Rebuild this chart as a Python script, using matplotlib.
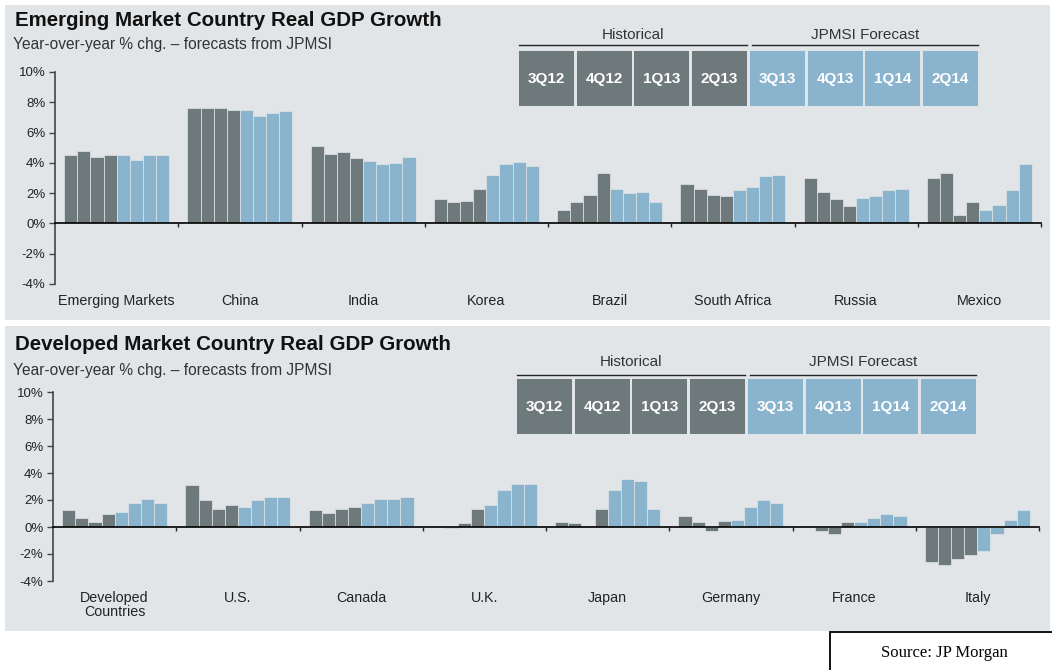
import matplotlib
matplotlib.use('Agg')
import matplotlib.pyplot as plt
from matplotlib.patches import Rectangle
import numpy as np

plt.rcParams['font.family'] = ['Liberation Sans', 'DejaVu Sans']

# ---- data ----
quarters = ['3Q12', '4Q12', '1Q13', '2Q13', '3Q13', '4Q13', '1Q14', '2Q14']
n_hist = 4  # first four quarters are historical, rest are JPMSI forecasts

em_names = ['Emerging Markets', 'China', 'India', 'Korea', 'Brazil',
            'South Africa', 'Russia', 'Mexico']
em_growth = [
    [4.5, 4.8, 4.4, 4.5, 4.5, 4.2, 4.55, 4.55],
    [7.6, 7.6, 7.6, 7.5, 7.5, 7.1, 7.3, 7.4],
    [5.1, 4.6, 4.7, 4.3, 4.1, 3.9, 4.0, 4.4],
    [1.6, 1.4, 1.5, 2.25, 3.2, 3.9, 4.05, 3.8],
    [0.9, 1.4, 1.9, 3.3, 2.3, 2.0, 2.1, 1.4],
    [2.6, 2.3, 1.9, 1.8, 2.2, 2.4, 3.1, 3.2],
    [3.0, 2.1, 1.6, 1.15, 1.65, 1.8, 2.2, 2.3],
    [3.0, 3.3, 0.55, 1.4, 0.9, 1.2, 2.2, 3.9],
]

dm_names = ['Developed\nCountries', 'U.S.', 'Canada', 'U.K.', 'Japan',
            'Germany', 'France', 'Italy']
dm_growth = [
    [1.25, 0.65, 0.35, 0.95, 1.1, 1.8, 2.1, 1.8],
    [3.1, 2.0, 1.35, 1.6, 1.45, 2.0, 2.25, 2.25],
    [1.25, 1.05, 1.35, 1.45, 1.8, 2.1, 2.1, 2.2],
    [0.07, -0.07, 0.3, 1.35, 1.65, 2.75, 3.15, 3.15],
    [0.35, 0.3, 0.1, 1.35, 2.75, 3.55, 3.4, 1.35],
    [0.85, 0.35, -0.3, 0.45, 0.55, 1.5, 2.0, 1.8],
    [0.07, -0.3, -0.5, 0.35, 0.4, 0.65, 1.0, 0.85],
    [-2.6, -2.8, -2.4, -2.1, -1.8, -0.5, 0.55, 1.25],
]

W, H = 1052, 670
hist_color = '#6e797b'
fc_color = '#8ab3cd'
panel_bg = '#e2e5e7'


def fx(px):
    return px / W


def fy(py):
    return 1 - py / H


fig = plt.figure(figsize=(W / 100, H / 100), dpi=100)

# panel backgrounds
for top, bot in [(5, 320), (326, 631)]:
    fig.patches.append(Rectangle((fx(5), fy(bot)), fx(1050) - fx(5), fy(top) - fy(bot),
                                 transform=fig.transFigure, facecolor=panel_bg,
                                 edgecolor='none', zorder=-5))

# source box
fig.patches.append(Rectangle((fx(830), fy(672)), fx(1055) - fx(830), fy(632) - fy(672),
                             transform=fig.transFigure, facecolor='white',
                             edgecolor='black', linewidth=1.3, zorder=1))
fig.text(fx(944), fy(653), 'Source: JP Morgan', family='Liberation Serif',
         fontsize=12, ha='center', va='center')


def draw_legend(y_text, y_line, y_box0, y_box1, x0):
    step = 57.7
    bw = 55
    for k, q in enumerate(quarters):
        c = hist_color if k < n_hist else fc_color
        bx = x0 + k * step
        fig.patches.append(Rectangle((fx(bx), fy(y_box1)), fx(bw), fy(y_box0) - fy(y_box1),
                                     transform=fig.transFigure, facecolor=c,
                                     edgecolor='none', zorder=2))
        fig.text(fx(bx + bw / 2), fy((y_box0 + y_box1) / 2), q, color='white',
                 fontsize=11, fontweight='bold', ha='center', va='center')
    # group headers with rules underneath
    for lbl, a, b in [('Historical', x0, x0 + 3 * step + bw),
                      ('JPMSI Forecast', x0 + 4 * step + 2, x0 + 7 * step + bw)]:
        fig.lines.append(plt.Line2D([fx(a), fx(b)], [fy(y_line), fy(y_line)],
                                    transform=fig.transFigure, color='#222222', lw=1))
        fig.text(fx((a + b) / 2), fy(y_text), lbl, fontsize=11, color='#333333',
                 ha='center', va='center')


def draw_panel(rect, names, growth, title, title_y, sub_y):
    ax = fig.add_axes(rect)
    ax.set_zorder(1)
    ax.patch.set_visible(False)
    ncat = len(names)
    group_w = 0.85
    bw = group_w / len(quarters)
    colors = [hist_color] * n_hist + [fc_color] * (len(quarters) - n_hist)
    for i, vals in enumerate(growth):
        xs = i + 0.5 - group_w / 2 + bw / 2 + bw * np.arange(len(quarters))
        ax.bar(xs, vals, width=bw, color=colors, edgecolor=panel_bg,
               linewidth=0.5, zorder=2)
        ax.annotate(names[i], xy=(i + 0.5, -4), xytext=(0, -7),
                    textcoords='offset points', ha='center', va='top',
                    fontsize=10.3, color='#222222', linespacing=1.05,
                    annotation_clip=False)
    ax.set_xlim(0, ncat)
    ax.set_ylim(-4, 10)
    yt = np.arange(-4, 11, 2)
    ax.set_yticks(yt)
    ax.set_yticklabels([f'{v}%' for v in yt])
    ax.tick_params(axis='y', length=4, width=1, color='#444444', labelsize=9.5,
                   labelcolor='#222222', pad=3)
    ax.set_xticks(np.arange(1, ncat + 1))
    ax.set_xticklabels([])
    ax.tick_params(axis='x', length=3, width=1, color='#222222', direction='out')
    ax.spines['bottom'].set_position(('data', 0))
    ax.spines['bottom'].set_color('black')
    ax.spines['bottom'].set_linewidth(1.2)
    ax.spines['bottom'].set_zorder(3)
    ax.spines['left'].set_color('#444444')
    ax.spines['left'].set_linewidth(1.2)
    for s in ['top', 'right']:
        ax.spines[s].set_visible(False)
    fig.text(fx(15), fy(title_y), title, fontsize=14.8, fontweight='bold',
             color='#111111', ha='left', va='center')
    fig.text(fx(13), fy(sub_y), 'Year-over-year % chg. \u2013 forecasts from JPMSI',
             fontsize=11.2, color='#333333', ha='left', va='center')
    return ax


draw_panel([fx(55), fy(284), fx(1041) - fx(55), fy(72) - fy(284)],
           em_names, em_growth, 'Emerging Market Country Real GDP Growth', 21, 45)
draw_panel([fx(53), fy(581), fx(1039) - fx(53), fy(392) - fy(581)],
           dm_names, dm_growth, 'Developed Market Country Real GDP Growth', 344, 370)

draw_legend(35, 45, 51, 106, 519)
draw_legend(362, 375, 379, 434, 517)

fig.savefig('out.png', dpi=100, facecolor='white')
